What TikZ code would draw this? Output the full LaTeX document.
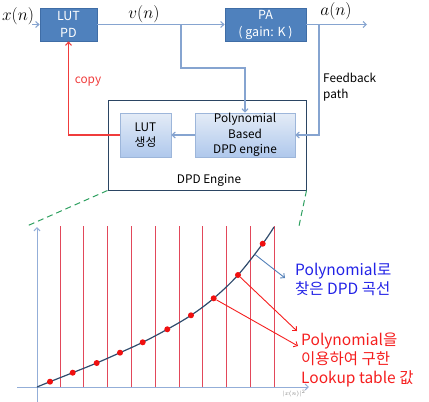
\documentclass[tikz,border=0pt]{standalone}
\usepackage{fontspec}
\setmainfont{Noto Sans CJK KR}
\usetikzlibrary{arrows.meta,shapes.geometric}
\definecolor{boxblue}{HTML}{4F81BD}
\definecolor{boxedge}{HTML}{3F6DA6}
\definecolor{conn}{HTML}{86A4D0}
\definecolor{inedge}{HTML}{9DB6DA}
\definecolor{outedge}{HTML}{2B4563}
\definecolor{copyred}{HTML}{F03C3C}
\definecolor{gridred}{HTML}{E2485A}
\definecolor{curvec}{HTML}{2F4B6C}
\definecolor{dotred}{HTML}{F01010}
\definecolor{txtblue}{HTML}{2222E6}
\definecolor{txtred}{HTML}{F51E1E}
\definecolor{greendash}{HTML}{2EA060}
\definecolor{axisc}{HTML}{93AED8}
\definecolor{pointer}{HTML}{5380B8}
\definecolor{lighttop}{HTML}{E4ECF7}
\definecolor{lightbot}{HTML}{AFC8EC}
\tikzset{
  bar/.style={-{Straight Barb[length=3.2pt,width=6pt]}},
  darkbox/.style={draw=boxedge,fill=boxblue,text=white,align=center,inner sep=0pt,
     font=\fontsize{12.5}{17}\selectfont,line width=0.8pt},
  lightbox/.style={draw=inedge,top color=lighttop,bottom color=lightbot,
     align=center,inner sep=0pt,font=\fontsize{11.8}{15.7}\selectfont,line width=0.6pt},
  conline/.style={draw=conn,line width=1.1pt},
  mathlbl/.style={font=\fontsize{16}{16}\selectfont,inner sep=0pt},
  lbl/.style={font=\fontsize{11.8}{15.7}\selectfont,inner sep=0pt,align=left},
  bigred/.style={font=\fontsize{15.5}{19}\selectfont,text=txtred,inner sep=0pt,align=left},
  bigblue/.style={font=\fontsize{15.5}{19.3}\selectfont,text=txtblue,inner sep=0pt,align=left},
  dot/.style={circle,fill=dotred,inner sep=0pt,minimum size=6pt},
}
\begin{document}
\begin{tikzpicture}[x=1pt,y=-1pt]
\useasboundingbox (0,0) rectangle (429,402);
% top blocks
\node[darkbox,minimum width=57pt,minimum height=33pt] (lutpd) at (68.5,24.5) {LUT\\PD};
\node[darkbox,minimum width=81pt,minimum height=33pt] (pa) at (265.5,24.5) {PA\\( gain: K )};
\node[draw=outedge,fill=white,line width=1pt,minimum width=198pt,minimum height=90pt,inner sep=0pt] (dpd) at (207,145) {};
\node[lightbox,minimum width=51pt,minimum height=44pt] (lutgen) at (145.5,135) {LUT\\생성};
\node[lightbox,minimum width=100pt,minimum height=44pt] (poly) at (245,135) {Polynomial\\Based\\DPD engine};
\node[lbl] (dpdlbl) at (209,180) {DPD Engine};
% labels
\node[mathlbl] (xn) at (18,16) {$x(n)$};
\node[mathlbl] (vn) at (144,14) {$v(n)$};
\node[mathlbl] (an) at (336,11.5) {$a(n)$};
\node[lbl,anchor=west] (fb) at (323,87) {Feedback\\path};
\node[lbl,text=copyred] (copy) at (88,82) {copy};
% connectors
\coordinate (in) at (32,24.5);
\coordinate (out) at (367,24.5);
\coordinate (br) at (181,24.5);
\coordinate (brk) at (181,68);
\coordinate (fbt) at (319,24.5);
\coordinate (fbb) at (319,135);
\coordinate (cp) at (68.5,135);
\draw[conline,bar] (in) -- (lutpd.west);
\draw[conline,bar] (lutpd.east) -- (pa.west);
\draw[conline,bar] (pa.east) -- (out);
\draw[conline,bar] (br) -- (brk) -| (poly.north);
\draw[conline,bar] (fbt) -- (fbb) -- (poly.east);
\draw[conline,bar] (poly.west) -- (lutgen.east);
\draw[draw=copyred,line width=1.1pt,bar] (lutgen.west) -- (cp) -- (lutpd.south);
% zoom lines
\coordinate (zl) at (27,226);
\coordinate (zr) at (299,226);
\draw[greendash,line width=1pt,dash pattern=on 6pt off 4pt] (dpd.south west) -- (zl);
\draw[greendash,line width=1pt,dash pattern=on 6pt off 4pt] (dpd.south east) -- (zr);
% chart
\foreach \k in {0,...,9}{
  \draw[gridred,line width=0.8pt] ({60+23.8*\k},226) -- ({60+23.8*\k},387);
}
\coordinate (ybot) at (37,402);
\coordinate (ytop) at (37,227);
\coordinate (xl) at (17,387);
\coordinate (xr) at (309,387);
\draw[axisc,line width=1pt,bar] (ybot) -- (ytop);
\draw[axisc,line width=1pt,bar] (xl) -- (xr);
\node[font=\fontsize{6}{6}\selectfont,text=gray,inner sep=0pt] (xlbl) at (294,393.5) {$|x(n)|^2$};
\draw[curvec,line width=1.2pt] plot[smooth,tension=0.6] coordinates {
 (37,387) (50,381.7) (72.7,372.7) (96.7,363) (120,352.7) (142.7,342.3)
 (167.3,329.3) (191,315.3) (213.7,298.3) (238,275) (262.7,243.7) (274,227)};
\foreach \p [count=\i] in {(50,381.7),(72.7,372.7),(96.7,363),(120,352.7),(142.7,342.3),
 (167.3,329.3),(191,315.3),(213.7,298.3),(238,275),(262.7,243.7)}{
  \node[dot] (d\i) at \p {};
}
% annotations
\node[bigblue,anchor=west] (ptxt) at (295,279.5) {Polynomial로\\찾은 DPD 곡선};
\node[bigred,anchor=west] (rtxt) at (301,359.5) {Polynomial을\\이용하여 구한\\Lookup table 값};
\coordinate (cpt) at (255,254.5);
\coordinate (pend) at (285,278);
\coordinate (r1) at (297,331);
\coordinate (r2) at (298,346);
\draw[pointer,line width=0.9pt,bar] (cpt) -- (pend);
\draw[txtred,line width=0.9pt,bar] (d9) -- (r1);
\draw[txtred,line width=0.9pt,bar] (d8) -- (r2);
\end{tikzpicture}
\end{document}
